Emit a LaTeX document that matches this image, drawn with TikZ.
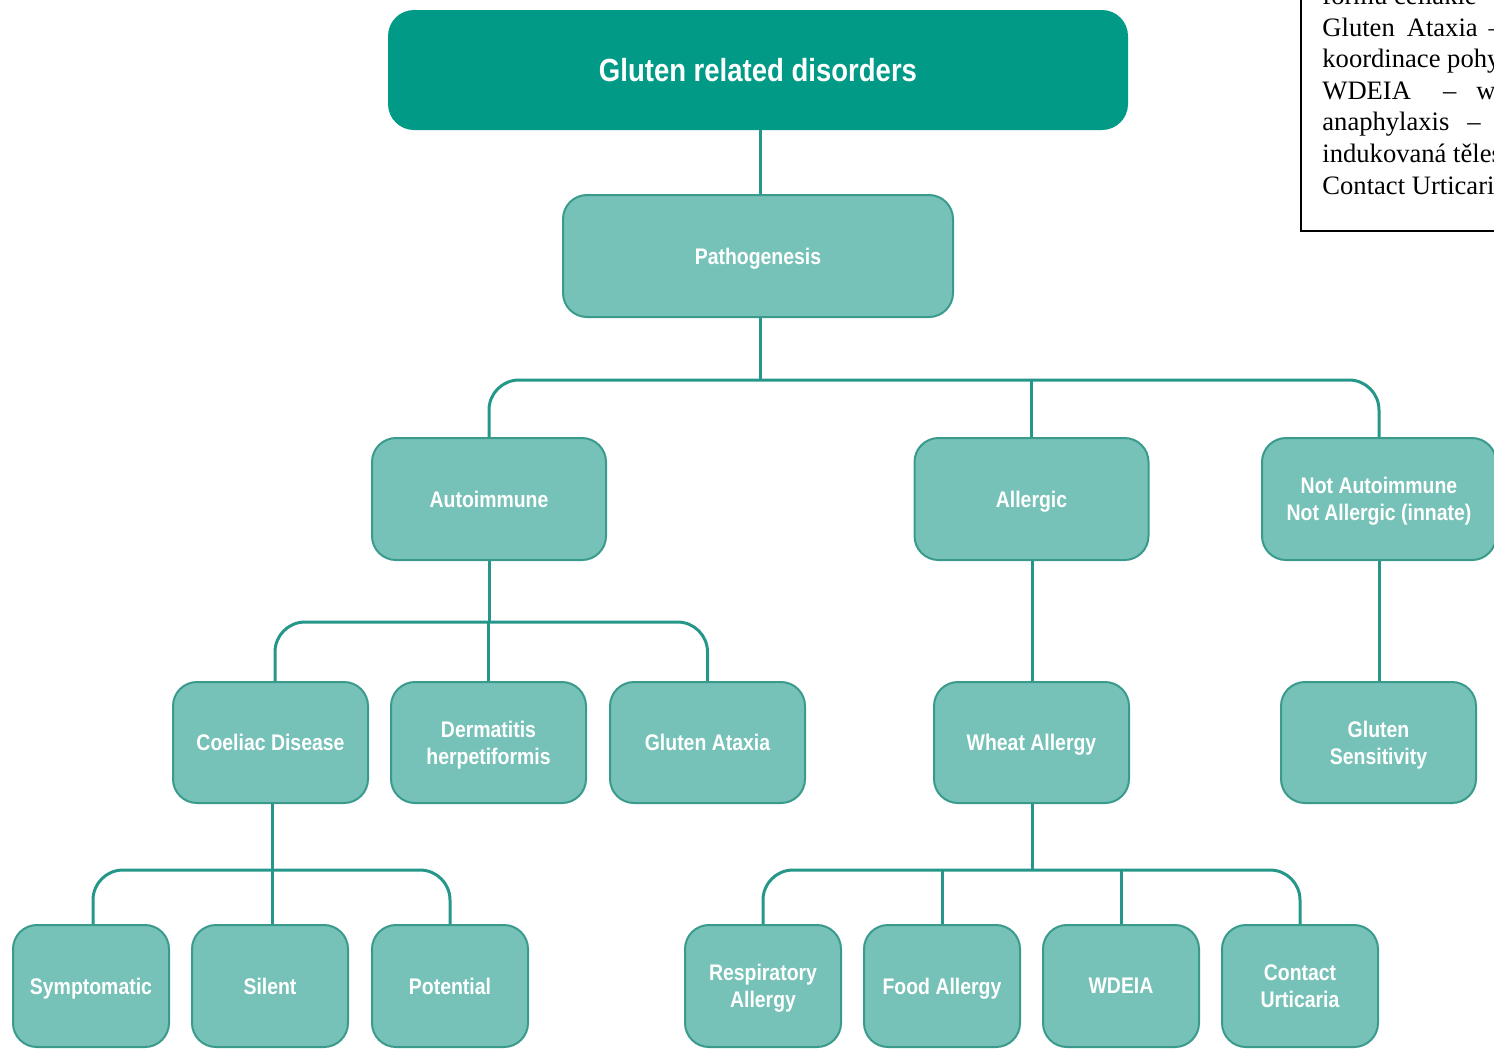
\documentclass[tikz,border=0pt]{standalone}
\usepackage{fontspec}
\setmainfont{Liberation Serif}
\newfontfamily\boxfont{Liberation Sans}[FakeStretch=0.86]
\definecolor{headteal}{HTML}{009A87}
\definecolor{boxfill}{HTML}{76C2B8}
\definecolor{boxedge}{HTML}{3A9B8D}
\definecolor{linkteal}{HTML}{25978A}
\begin{document}
\begin{tikzpicture}[x=0.5pt,y=-0.5pt,
  cat/.style={draw=boxedge, line width=1pt, fill=boxfill, rounded corners=12pt,
    text=white, align=center, inner sep=0pt, text depth=0pt,
    font=\boxfont\bfseries\fontsize{11.3}{13.5}\selectfont},
  headbox/.style={fill=headteal, rounded corners=13pt, text=white, inner sep=0pt,
    minimum width=370pt, minimum height=60pt,
    font=\boxfont\bfseries\fontsize{16}{19}\selectfont},
  widebox/.style={cat, minimum width=117pt, minimum height=61pt},
  midbox/.style={cat, minimum width=97.5pt, minimum height=60.5pt},
  leafbox/.style={cat, minimum width=78pt, minimum height=61pt},
  link/.style={draw=linkteal, line width=1.5pt},
  bus/.style={link, rounded corners=15pt},
  noteline/.style={anchor=base west, inner sep=0pt, font=\fontsize{13.3}{15.3}\selectfont}]
\useasboundingbox (0,0) rectangle (1494,1056);
\begin{scope}
\clip (0,0) rectangle (1494,1056);

% bus levels
\coordinate (busA) at (760,380);
\coordinate (busB) at (489,622);
\coordinate (busC) at (272,870);
\coordinate (busD) at (1032,870);

% nodes
\node[headbox] (root) at (758,70) {Gluten related disorders};
\node[cat, minimum width=195pt, minimum height=61pt] (patho) at (758,256) {Pathogenesis};

\node[widebox] (auto) at (489,499) {Autoimmune};
\node[widebox] (allergic) at (1031.5,499) {Allergic};
\node[widebox] (innate) at (1379,499) {Not Autoimmune\\Not Allergic (innate)};

\node[midbox] (coeliac) at (270.5,742.5) {Coeliac Disease};
\node[midbox] (derm) at (488.5,742.5) {Dermatitis\\herpetiformis};
\node[midbox] (ataxia) at (707.5,742.5) {Gluten Ataxia};
\node[midbox] (wheat) at (1031.5,742.5) {Wheat Allergy};
\node[midbox] (sens) at (1378.5,742.5) {Gluten\\Sensitivity};

\node[leafbox] (sympt) at (91,986) {Symptomatic};
\node[leafbox] (silent) at (270,986) {Silent};
\node[leafbox] (potential) at (450,986) {Potential};
\node[leafbox] (resp) at (763,986) {Respiratory\\Allergy};
\node[leafbox] (food) at (942,986) {Food Allergy};
\node[leafbox] (wdeia) at (1121,986) {WDEIA};
\node[leafbox] (contact) at (1300,986) {Contact\\Urticaria};

% connectors
\draw[link] (root.south -| busA) -- (patho.north -| busA);
\draw[link] (patho.south -| busA) -- (busA);
\draw[bus] (auto.north) |- (busA) -| (innate.north);
\draw[link] (allergic.north) -- (allergic.north |- busA);

\draw[link] (auto.south) -- (busB);
\draw[bus] (coeliac.north -| 275,0) |- (busB) -| (ataxia.north);
\draw[link] (derm.north) -- (derm.north |- busB);

\draw[link] (coeliac.south -| busC) -- (busC);
\draw[bus] (sympt.north -| 93,0) |- (busC) -| (potential.north);
\draw[link] (silent.north -| busC) -- (busC);

\draw[link] (allergic.south -| busD) -- (wheat.north -| busD);
\draw[link] (innate.south) -- (sens.north -| innate.south);
\draw[link] (wheat.south -| busD) -- (busD);
\draw[bus] (resp.north) |- (busD) -| (contact.north);
\draw[link] (food.north) -- (food.north |- busD);
\draw[link] (wdeia.north) -- (wdeia.north |- busD);

% explanatory note, cut at the page edge
\draw[line width=1pt] (1301,-10) -- (1301,231) -- (1510,231);
\node[noteline] (n1) at (1322,4.4) {formu celiakie};
\node[noteline] (n2) at (1322,36) {Gluten\hspace{6pt}Ataxia\hspace{5.5pt}–};
\node[noteline] (n3) at (1322,67.6) {koordinace pohyb};
\node[noteline] (n4) at (1322,99.2) {WDEIA\hspace{16pt}–\hspace{10pt}wh};
\node[noteline] (n5) at (1322,130.8) {anaphylaxis\hspace{9pt}–};
\node[noteline] (n6) at (1322,162.4) {indukovaná těles};
\node[noteline] (n7) at (1322,194) {Contact Urticari};
\end{scope}
\end{tikzpicture}
\end{document}
